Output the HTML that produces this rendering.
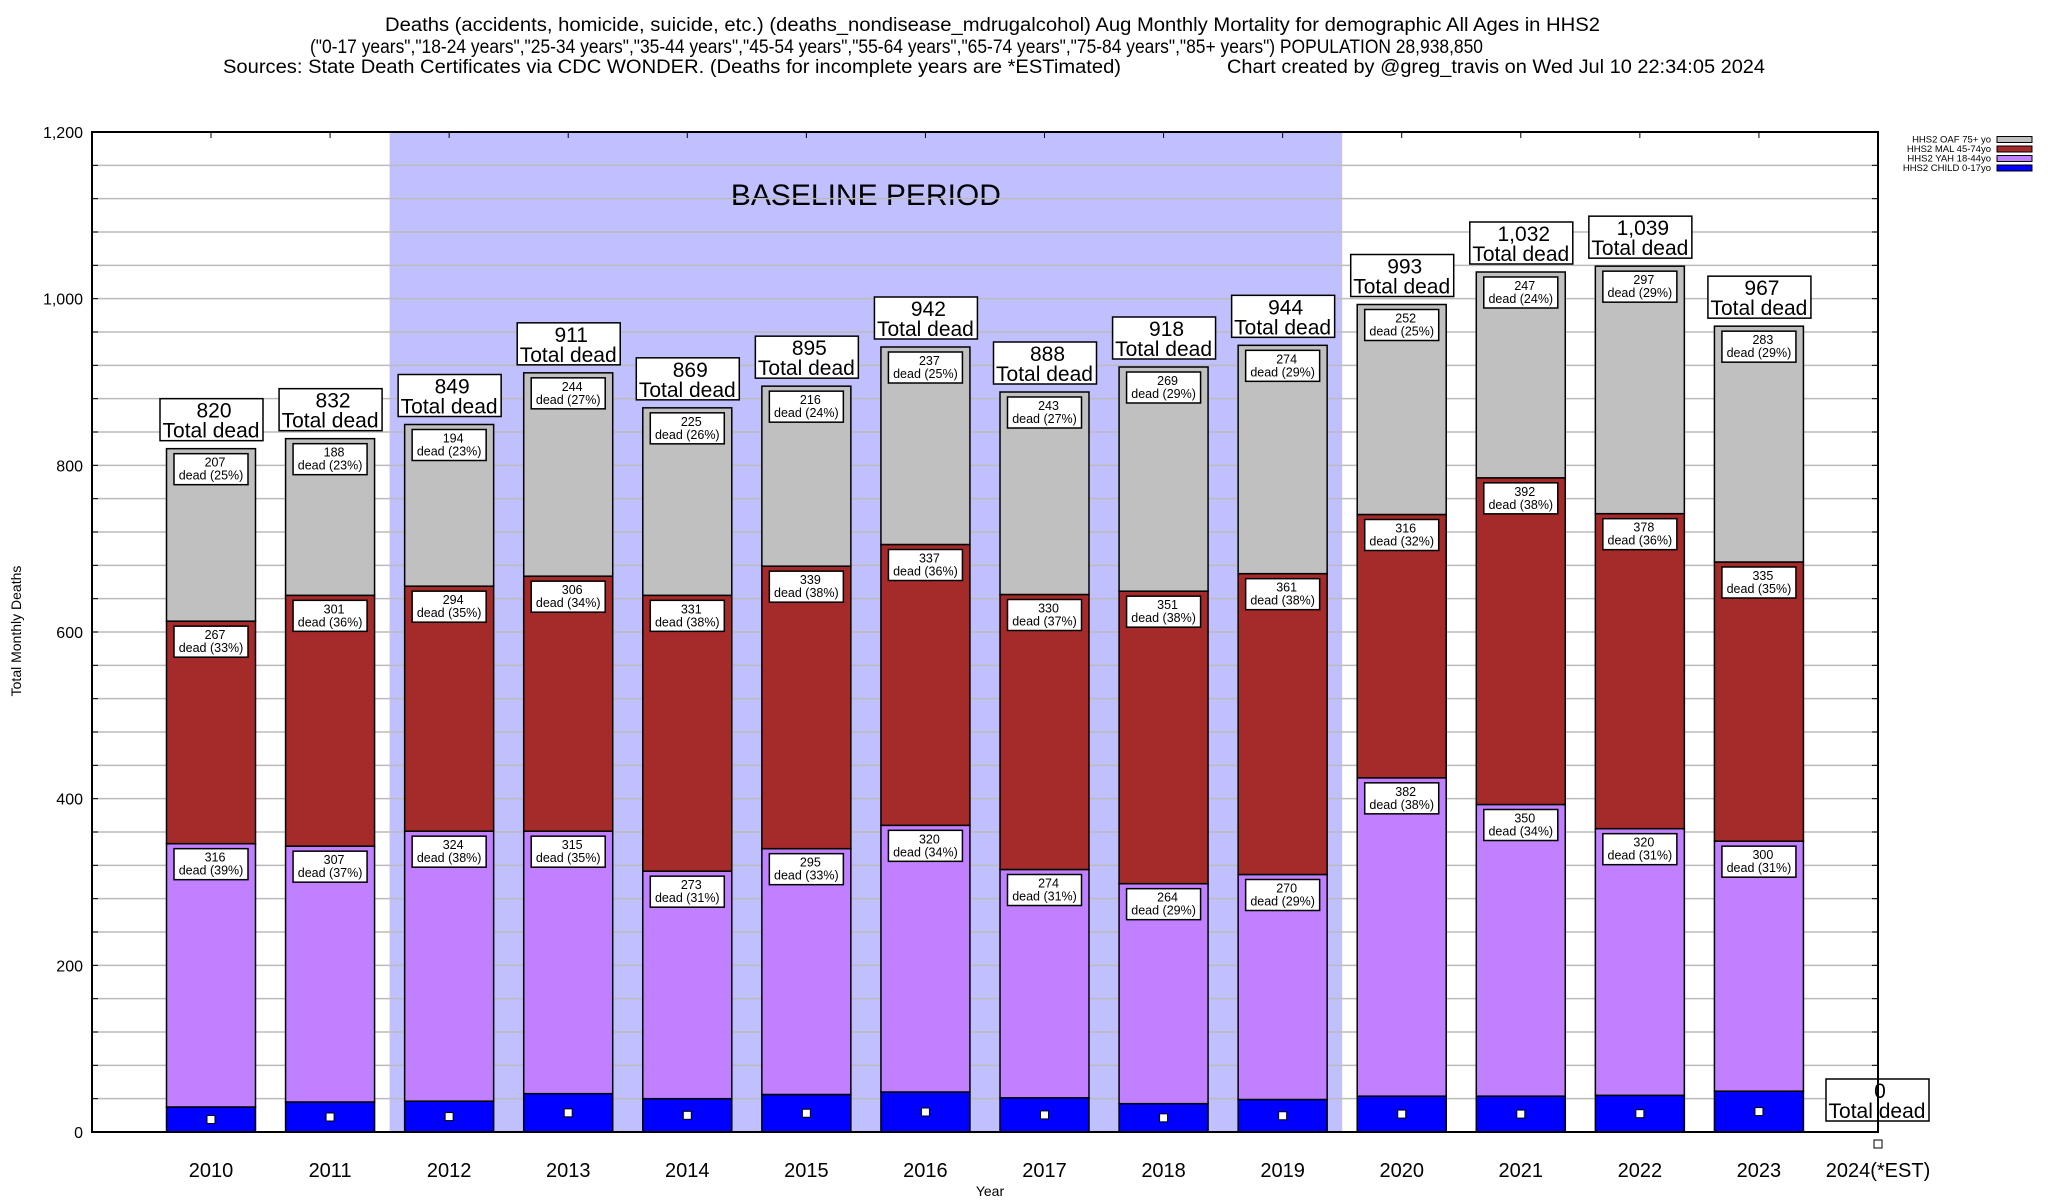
<!DOCTYPE html>
<html><head><meta charset="utf-8"><style>
html,body{margin:0;padding:0;background:#fff}
svg{display:block;font-family:"Liberation Sans",Arial,sans-serif}
</style></head><body>
<svg id="chart" width="2048" height="1200" viewBox="0 0 2048 1200" xmlns="http://www.w3.org/2000/svg">
<g font-size="19" fill="#000">
<text x="385" y="31" textLength="1215" lengthAdjust="spacingAndGlyphs">Deaths (accidents, homicide, suicide, etc.) (deaths_nondisease_mdrugalcohol) Aug Monthly Mortality for demographic All Ages in HHS2</text>
<text x="310" y="53" textLength="1173" lengthAdjust="spacingAndGlyphs">("0-17 years","18-24 years","25-34 years","35-44 years","45-54 years","55-64 years","65-74 years","75-84 years","85+ years") POPULATION 28,938,850</text>
<text x="223" y="73" textLength="898" lengthAdjust="spacingAndGlyphs">Sources: State Death Certificates via CDC WONDER. (Deaths for incomplete years are *ESTimated)</text>
<text x="1227" y="73" textLength="538" lengthAdjust="spacingAndGlyphs">Chart created by @greg_travis on Wed Jul 10 22:34:05 2024</text>
</g>
<g id="plot"></g>
</svg>
<script>
const years = ["2010","2011","2012","2013","2014","2015","2016","2017","2018","2019","2020","2021","2022","2023","2024(*EST)"];
const child = [30,36,37,46,40,45,48,41,34,39,43,43,44,49,0];
const yah = [316,307,324,315,273,295,320,274,264,270,382,350,320,300,0];
const mal = [267,301,294,306,331,339,337,330,351,361,316,392,378,335,0];
const oaf = [207,188,194,244,225,216,237,243,269,274,252,247,297,283,0];
const yahPct = [39,37,38,35,31,33,34,31,29,29,38,34,31,31,0];
const malPct = [33,36,35,34,38,38,36,37,38,38,32,38,36,35,0];
const oafPct = [25,23,23,27,26,24,25,27,29,29,25,24,29,29,0];
const yTicks = [0,200,400,600,800,1000,1200];
const baselineStart = 2, baselineEnd = 9;

const NS = "http://www.w3.org/2000/svg";
const L = 92, R = 1878, T = 132, B = 1132;
const y = v => B - (v / 1200) * (B - T);
const x0 = 211, step = (R - x0) / 14;
const xc = i => x0 + i * step;
const BW = 89;
const g = document.getElementById('plot');
function el(tag, attrs, parent, text) {
  const e = document.createElementNS(NS, tag);
  for (const k in attrs) e.setAttribute(k, attrs[k]);
  if (text !== undefined) e.textContent = text;
  (parent || g).appendChild(e);
  return e;
}
const fmt = n => n.toLocaleString('en-US');

// baseline band
const band = el('rect', {x: xc(baselineStart) - step/2, y: T, width: (baselineEnd - baselineStart + 1) * step, height: B - T, fill: '#c0c0ff'});


const bt = el('text', {x: (xc(baselineStart) - step/2 + xc(baselineEnd) + step/2) / 2, y: 205, 'font-size': 30, 'text-anchor': 'middle'}, g, 'BASELINE PERIOD');



// gridlines
for (let v = 40; v < 1200; v += 40) {
  const gl = el('line', {x1: L, x2: R, y1: y(v), y2: y(v), stroke: '#bbbbbb', 'stroke-width': 1.5});
  
  
  el('line', {x1: L, x2: L + 6, y1: y(v), y2: y(v), stroke: '#000', 'stroke-width': 1});
  el('line', {x1: R - 6, x2: R, y1: y(v), y2: y(v), stroke: '#000', 'stroke-width': 1});
}
yTicks.forEach(v => {
  const t = el('text', {x: 83, y: y(v) + 6, 'font-size': 16, 'text-anchor': 'end'}, g, fmt(v));
  
  
});

function segLabel(cx, top, val, pct, name) {
  const grp = el('g', {});
  
  
  el('rect', {x: cx - 37, y: top + 5, width: 74, height: 31, fill: '#fff', stroke: '#000', 'stroke-width': 1.5}, grp);
  el('text', {x: cx + 4, y: top + 18, 'font-size': 12.5, 'text-anchor': 'middle'}, grp, val);
  el('text', {x: cx, y: top + 31, 'font-size': 12.5, 'text-anchor': 'middle'}, grp, 'dead (' + pct + '%)');
}

const colors = ['#0000ff', '#c080ff', '#a52a2a', '#c0c0c0'];
const names = ['child', 'yah', 'mal', 'oaf'];
years.forEach((yr, i) => {
  const cx = xc(i);
  const vals = [child[i], yah[i], mal[i], oaf[i]];
  const total = vals.reduce((a, b) => a + b, 0);
  if (total > 0) {
    let base = 0;
    vals.forEach((v, k) => {
      const r = el('rect', {x: cx - BW/2, y: y(base + v), width: BW, height: y(base) - y(base + v), fill: colors[k], stroke: '#000', 'stroke-width': 1.5});
      
      
      base += v;
    });
    let b2 = child[i];
    segLabel(cx, y(b2 + yah[i]), yah[i], yahPct[i], 'label-yah-' + yr); b2 += yah[i];
    segLabel(cx, y(b2 + mal[i]), mal[i], malPct[i], 'label-mal-' + yr); b2 += mal[i];
    segLabel(cx, y(b2 + oaf[i]), oaf[i], oafPct[i], 'label-oaf-' + yr);
  }
  const my = total > 0 ? y(child[i] / 2) : B + 12;
  const m = el('rect', {x: cx - 4, y: my - 4, width: 8, height: 8, fill: '#fff', stroke: '#000', 'stroke-width': 1});
  
  
  // total label
  const tg = el('g', {});
  
  
  const bot = total > 0 ? y(total) - 8 : y(0) - 11;
  const tcx = total > 0 ? cx : cx - 1;
  el('rect', {x: tcx - 51, y: bot - 42, width: 103, height: 42, fill: '#fff', stroke: '#000', 'stroke-width': 1.5}, tg);
  el('text', {x: tcx + 3, y: bot - 23, 'font-size': 21, 'text-anchor': 'middle'}, tg, fmt(total));
  el('text', {x: tcx, y: bot - 3, 'font-size': 21, 'text-anchor': 'middle'}, tg, 'Total dead');
  // x label + top tick
  const xl = el('text', {x: cx, y: 1177, 'font-size': 20, 'text-anchor': 'middle'}, g, yr);
  
  
  el('line', {x1: cx, x2: cx, y1: T, y2: T + 6, stroke: '#000', 'stroke-width': 1});
});

// axes frame
const fr = el('rect', {x: L, y: T, width: R - L, height: B - T, fill: 'none', stroke: '#000', 'stroke-width': 2});



const yt = el('text', {x: 0, y: 0, 'font-size': 14, 'text-anchor': 'middle', transform: 'translate(21,631) rotate(-90)'}, g, 'Total Monthly Deaths');


const xt = el('text', {x: 990, y: 1196, 'font-size': 14, 'text-anchor': 'middle'}, g, 'Year');



// legend
const legNames = ['HHS2 OAF 75+ yo', 'HHS2 MAL 45-74yo', 'HHS2 YAH 18-44yo', 'HHS2 CHILD 0-17yo'];
const legColors = ['#c0c0c0', '#a52a2a', '#c080ff', '#0000ff'];
legNames.forEach((n, k) => {
  const lg = el('g', {});
  
  
  const ly = 139 + k * 9.5;
  el('text', {x: 1991, y: ly + 3.5, 'font-size': 9.5, 'text-anchor': 'end'}, lg, n);
  el('rect', {x: 1997, y: ly - 2.5, width: 35, height: 6, fill: legColors[k], stroke: '#000', 'stroke-width': 1});
});
</script>
</body></html>
